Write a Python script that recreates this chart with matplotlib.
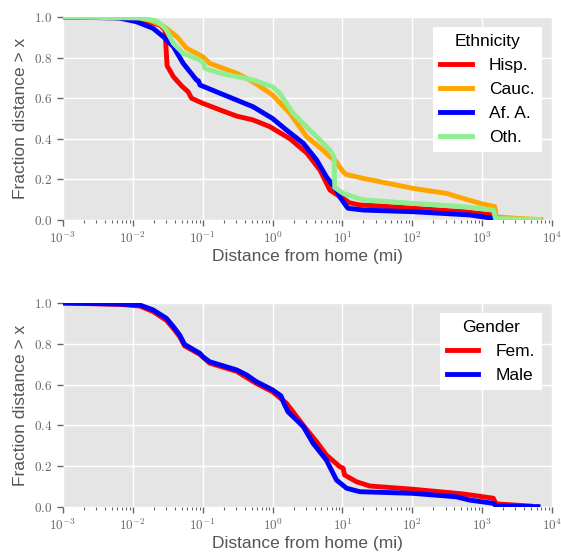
import numpy as np
import matplotlib
matplotlib.use('Agg')
import matplotlib.pyplot as plt
from matplotlib.ticker import FixedLocator, FuncFormatter, NullFormatter

# log10(distance) and fraction > x
hisp_lx = [-3, -2.3, -2.0, -1.85, -1.71, -1.61, -1.54, -1.51, -1.42, -1.3, -1.21, -1.16,
           -1.0, -0.75, -0.515, -0.28, -0.04, 0.25, 0.49, 0.68, 0.82, 0.92, 1.01, 1.10,
           1.25, 1.535, 2.01, 2.73, 3.16, 3.2, 3.22]
hisp_y = [1.0, 0.998, 0.99, 0.985, 0.97, 0.96, 0.936, 0.76, 0.706, 0.66, 0.632, 0.60,
          0.575, 0.542, 0.512, 0.493, 0.46, 0.40, 0.33, 0.245, 0.148, 0.125, 0.107, 0.085,
          0.074, 0.069, 0.058, 0.041, 0.025, 0.016, 0.003]

cauc_lx = [-3, -2.0, -1.8, -1.71, -1.6, -1.52, -1.37, -1.23, -1.0, -0.9, -0.515, -0.28,
           0.0, 0.25, 0.49, 0.72, 0.82, 0.915, 0.94, 1.01, 1.05, 1.30, 2.01, 2.49, 2.97,
           3.18, 3.2, 3.5, 3.84]
cauc_y = [1.0, 0.995, 0.988, 0.977, 0.962, 0.944, 0.903, 0.846, 0.805, 0.772, 0.723, 0.681,
          0.616, 0.525, 0.41, 0.345, 0.312, 0.287, 0.271, 0.238, 0.225, 0.205, 0.156, 0.131,
          0.082, 0.066, 0.016, 0.008, 0.002]

afa_lx = [-3, -2.2, -1.95, -1.71, -1.565, -1.42, -1.28, -1.09, -1.06, -1.04, -0.75, -0.515,
          -0.28, 0.0, 0.2, 0.44, 0.63, 0.77, 0.915, 0.96, 1.06, 1.08, 1.30, 2.01, 2.82,
          3.16, 3.2, 3.47]
afa_y = [1.0, 0.995, 0.977, 0.944, 0.903, 0.854, 0.772, 0.69, 0.685, 0.665, 0.624, 0.591,
         0.558, 0.50, 0.443, 0.378, 0.296, 0.213, 0.148, 0.115, 0.066, 0.058, 0.049, 0.041,
         0.025, 0.008, 0.004, 0.001]

oth_lx = [-3, -1.9, -1.8, -1.66, -1.6, -1.52, -1.42, -1.28, -1.04, -0.99, -0.97, -0.75,
          -0.28, 0.0, 0.104, 0.295, 0.58, 0.82, 0.88, 0.89, 1.01, 1.30, 2.01, 2.73, 3.16,
          3.19, 3.5, 3.82]
oth_y = [1.0, 0.995, 0.99, 0.98, 0.965, 0.936, 0.870, 0.821, 0.788, 0.775, 0.747, 0.723,
         0.69, 0.657, 0.624, 0.525, 0.427, 0.345, 0.31, 0.16, 0.131, 0.099, 0.082, 0.066,
         0.049, 0.008, 0.004, 0.002]

fem_lx = [-3, -2.18, -1.90, -1.71, -1.52, -1.42, -1.33, -1.26, -1.04, -0.9, -0.515, -0.23,
          0.0, 0.2, 0.44, 0.63, 0.77, 0.96, 1.01, 1.03, 1.2, 1.39, 2.01, 2.73, 3.16, 3.19,
          3.22, 3.68]
fem_y = [1.0, 0.993, 0.985, 0.958, 0.915, 0.875, 0.835, 0.79, 0.748, 0.705, 0.665, 0.605,
         0.565, 0.508, 0.40, 0.32, 0.255, 0.198, 0.19, 0.157, 0.124, 0.103, 0.087, 0.064,
         0.043, 0.02, 0.015, 0.005]

male_lx = [-3, -2.18, -1.90, -1.71, -1.52, -1.42, -1.33, -1.26, -1.04, -1.0, -0.9, -0.515,
           -0.37, -0.23, 0.0, 0.12, 0.16, 0.22, 0.44, 0.58, 0.77, 0.915, 1.06, 1.25, 2.01,
           2.63, 2.82, 3.16, 3.2, 3.80]
male_y = [1.0, 0.995, 0.99, 0.966, 0.925, 0.884, 0.843, 0.797, 0.753, 0.737, 0.712, 0.672,
          0.647, 0.614, 0.574, 0.545, 0.51, 0.467, 0.394, 0.312, 0.230, 0.132, 0.092, 0.075,
          0.067, 0.05, 0.034, 0.018, 0.005, 0.002]

decades = list(range(-3, 5))
y_ticks = [0, 0.2, 0.4, 0.6, 0.8, 1.0]

plt.style.use('ggplot')
plt.rcParams['font.family'] = ['Liberation Sans', 'DejaVu Sans']
plt.rcParams['mathtext.fontset'] = 'cm'

fig = plt.figure(figsize=(5.61, 5.52), dpi=100)
ax1 = fig.add_axes([0.1123, 0.6014, 0.8717, 0.3678])
ax2 = fig.add_axes([0.1123, 0.0815, 0.8717, 0.3696])

major = [10.0 ** d for d in decades]
minor = [k * 10.0 ** d for d in decades[:-1] for k in range(2, 10)]


def style_axis(ax):
    ax.set_xscale('log')
    ax.set_xlim(1e-3, 1e4)
    ax.set_ylim(0, 1)
    ax.xaxis.set_major_locator(FixedLocator(major))
    ax.xaxis.set_minor_locator(FixedLocator(minor))
    ax.xaxis.set_major_formatter(FuncFormatter(lambda v, p: r'$10^{%d}$' % round(np.log10(v))))
    ax.xaxis.set_minor_formatter(NullFormatter())
    ax.yaxis.set_major_locator(FixedLocator(y_ticks))
    ax.yaxis.set_major_formatter(FuncFormatter(lambda v, p: r'$%.1f$' % v))
    ax.tick_params(axis='both', which='major', direction='out', length=4, width=1,
                   colors='#666666', labelsize=9.5)
    ax.tick_params(axis='x', which='minor', direction='out', length=2, width=0.8,
                   colors='#666666')
    ax.tick_params(top=False, right=False, which='both')
    ax.grid(True, which='major', color='white', linewidth=1)
    ax.grid(False, which='minor')
    ax.set_facecolor('#E5E5E5')
    for s in ax.spines.values():
        s.set_visible(False)
    ax.set_xlabel('Distance from home (mi)', fontsize=12.5, color='#555555', labelpad=2)
    ax.set_ylabel('Fraction distance > x', fontsize=12.5, color='#555555', labelpad=4)


style_axis(ax1)
style_axis(ax2)

lw = 3.5
ax1.plot(10 ** np.array(hisp_lx), hisp_y, color='red', lw=lw, label='Hisp.')
ax1.plot(10 ** np.array(cauc_lx), cauc_y, color='orange', lw=lw, label='Cauc.')
ax1.plot(10 ** np.array(afa_lx), afa_y, color='blue', lw=lw, label='Af. A.')
ax1.plot(10 ** np.array(oth_lx), oth_y, color='lightgreen', lw=lw, label='Oth.')

ax2.plot(10 ** np.array(fem_lx), fem_y, color='red', lw=lw, label='Fem.')
ax2.plot(10 ** np.array(male_lx), male_y, color='blue', lw=lw, label='Male')

for ax, title in [(ax1, 'Ethnicity'), (ax2, 'Gender')]:
    leg = ax.legend(title=title, loc='upper right', fontsize=12.5, title_fontsize=12.5,
                    frameon=True, facecolor='white', edgecolor='white', framealpha=1,
                    fancybox=False, borderaxespad=0.6, handlelength=1.8,
                    handletextpad=1.0, labelspacing=0.5)
    leg.get_frame().set_linewidth(0)

fig.savefig('out.png', dpi=100)
